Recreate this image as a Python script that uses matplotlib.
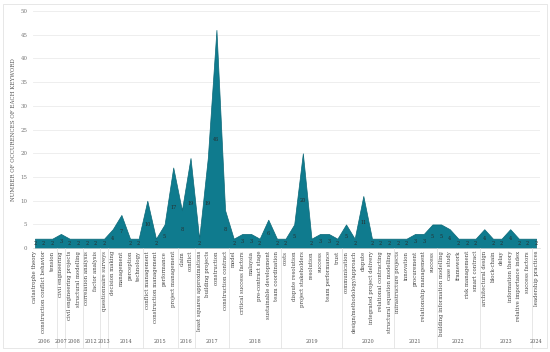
import matplotlib.pyplot as plt
from matplotlib.patches import Rectangle
import matplotlib.transforms as mtransforms

keywords = [
    "catastrophe theory", "construction conflict behavior", "tension",
    "civil engineering",
    "civil engineering projects", "structural modelling",
    "correlation analysis", "factor analysis",
    "questionnaire surveys",
    "decision making", "management", "perception", "technology",
    "conflict management", "construction management", "performance", "project management",
    "claim", "conflict",
    "least squares approximations", "building projects", "construction", "construction contract",
    "model", "critical success factors", "malaysia", "pre-contract stage",
    "sustainable development", "team coordination",
    "costs", "dispute resolution", "project stakeholders", "resolution", "success",
    "team performance", "trust",
    "communication", "design/methodology/approach", "dispute", "integrated project delivery",
    "relational contracting", "structural equation modelling",
    "infrastructure projects", "innovation", "procurement", "relationship management", "success",
    "building information modelling", "case study", "framework", "risk management", "smart contract",
    "architectural design", "block-chain", "delay", "information theory",
    "relative importance index", "success factors",
    "leadership practices",
]
counts = [
    2, 2, 2,
    3,
    2, 2,
    2, 2,
    2,
    4, 7, 2, 2,
    10, 2, 5, 17,
    8, 19,
    2, 19, 46, 8,
    2, 3, 3, 2, 6, 2,
    2, 5, 20, 2, 3, 3, 2,
    5, 2, 11, 2, 2, 2,
    2, 2, 3, 3, 5,
    5, 4, 2, 2, 2,
    4, 2, 2, 4, 2, 2,
    2,
]
years = ["2006", "2007", "2008", "2012", "2013", "2014", "2015", "2016",
         "2017", "2018", "2019", "2020", "2021", "2022", "2023", "2024"]
year_sizes = [3, 1, 2, 2, 1, 4, 4, 2, 4, 6, 7, 6, 5, 5, 6, 1]

plt.rcParams['font.family'] = ['DejaVu Serif']

fig = plt.figure(figsize=(5.5, 3.52), dpi=100)
ax = fig.add_axes([0.06, 0.295, 0.922, 0.674])

x = list(range(len(keywords)))
ax.fill_between(x, counts, 0, color='#0f7b8e', edgecolor='#0b6878', linewidth=0.5, zorder=2)

for xi, v in zip(x, counts):
    ax.text(xi, v / 2, str(v), ha='center', va='center', fontsize=3.5,
            color='#2a2a2a', zorder=3)

ax.set_xlim(-0.23, 58.46)
ax.set_ylim(0, 50)
ax.set_yticks(range(0, 51, 5))
ax.tick_params(axis='y', length=0, labelsize=4, labelcolor='#777777', pad=4)
ax.set_xticks(x)
ax.set_xticklabels(keywords, rotation=90, fontsize=3.9, color='#444444')
ax.tick_params(axis='x', length=0, pad=2)
ax.grid(axis='y', color='#ebebeb', linewidth=0.6, zorder=0)
ax.set_axisbelow(True)
for s in ['top', 'right', 'left']:
    ax.spines[s].set_visible(False)
ax.spines['bottom'].set_color('#d9d9d9')
ax.spines['bottom'].set_linewidth(0.5)

ax.set_ylabel("NUMBER OF OCCURENCES OF EACH KEYWORD", fontsize=4, color='#555555', labelpad=3)

trans = mtransforms.blended_transform_factory(ax.transData, ax.transAxes)
start = 0
bounds = [-0.5]
for yr, n in zip(years, year_sizes):
    mid = start + (n - 1) / 2
    ax.text(mid, -0.392, yr, transform=trans, ha='center', va='center',
            fontsize=3.5, color='#555555')
    start += n
    bounds.append(start - 0.5)
for b in bounds[1:-1]:
    ax.plot([b, b], [0, -0.42], transform=trans, color='#dddddd',
            linewidth=0.5, clip_on=False)

fig.patches.append(Rectangle((3 / 550, 4 / 352), 544 / 550, 344 / 352,
                             transform=fig.transFigure, fill=False,
                             edgecolor='#e3e3e3', linewidth=0.6))

fig.savefig("out.png", dpi=100)
